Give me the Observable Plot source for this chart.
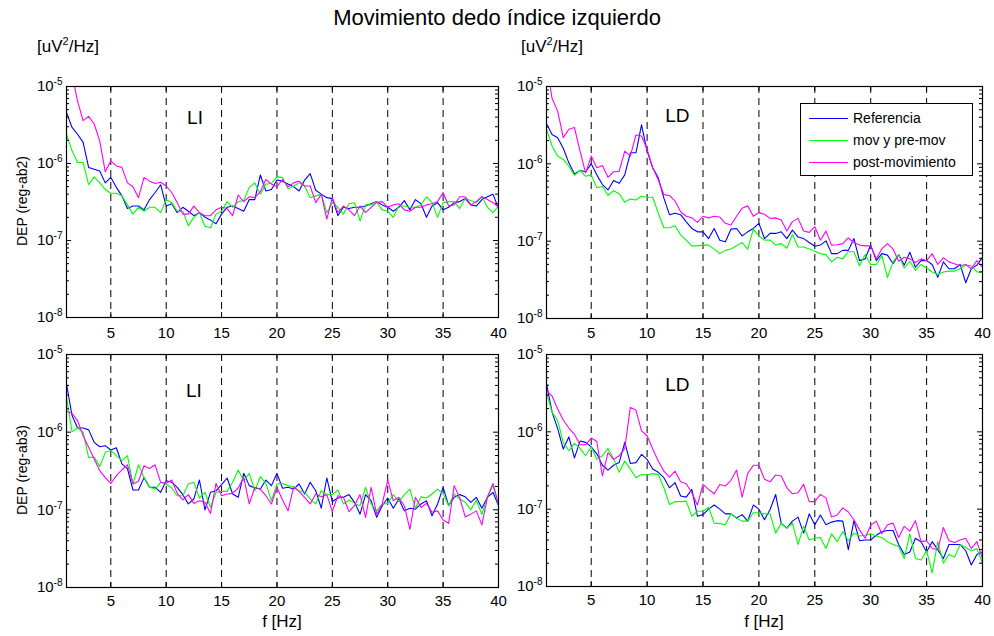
<!DOCTYPE html>
<html>
<head>
<meta charset="utf-8">
<script src="https://cdn.jsdelivr.net/npm/d3@7"></script>
<script src="https://cdn.jsdelivr.net/npm/@observablehq/plot@0.6"></script>
<style>
  html, body { margin: 0; padding: 0; background: #fff; }
  #root { position: relative; width: 994px; height: 636px; overflow: hidden; font-family: "Liberation Sans", Arial, sans-serif; color: #000; }
  .abs { position: absolute; white-space: nowrap; }
  .ylab { position: absolute; white-space: nowrap; font-size: 14px; transform: translate(-50%, -50%) rotate(-90deg); }
  .legend { position: absolute; border: 1px solid #000; background: #fff; box-sizing: border-box; }
  .legend .sw { position: absolute; left: 8px; width: 39px; height: 0; }
  .legend .lt { position: absolute; left: 52px; font-size: 14px; white-space: nowrap; line-height: 16px; }
</style>
</head>
<body>
<div id="root"></div>
<script>
// ---------------- data (PSD values in units of 1e-7 uV^2/Hz) ----------------
const UNIT = 1e-7;
const freqHz = [1,1.5,2,2.5,3,3.5,4,4.5,5,5.5,6,6.5,7,7.5,8,8.5,9,9.5,10,10.5,
  11,11.5,12,12.5,13,13.5,14,14.5,15,15.5,16,16.5,17,17.5,18,18.5,19,19.5,20,20.5,
  21,21.5,22,22.5,23,23.5,24,24.5,25,25.5,26,26.5,27,27.5,28,28.5,29,29.5,30,30.5,
  31,31.5,32,32.5,33,33.5,34,34.5,35,35.5,36,36.5,37,37.5,38,38.5,39,39.5,40];

const seriesNames = ["Referencia", "mov y pre-mov", "post-movimiento"];
const seriesColors = ["#0000ff", "#00ff00", "#ff00ff"];
const xTickValues = [5, 10, 15, 20, 25, 30, 35, 40];
const xGridValues = [5, 10, 15, 20, 25, 30, 35];
const yDecades = [1e-8, 1e-7, 1e-6, 1e-5];
const yMinorFactors = [2, 3, 4, 5, 6, 7, 8, 9];

// LI, reg-ab2
const li2Ref = [46,29.4,24,18.8,8.9,8.4,8.0,5.6,6.6,4.9, 3.8,2.6,2.8,2.8,2.5,3.4,4.2,5.3,2.8,3.0,
  2.3,2.7,2.4,2.1,2.3,2.0,1.84,1.65,2.2,2.7, 2.8,2.6,2.4,3.4,3.4,7.1,4.4,4.6,6.1,5.9,
  5.4,5.0,4.4,6.1,7.4,4.5,4.0,3.6,3.5,2.1, 2.7,2.6,2.7,2.7,2.8,3.0,3.2,2.9,2.7,2.4,
  2.7,3.3,2.5,3.4,3.0,2.0,2.8,3.1,2.5,2.7, 3.1,3.2,3.5,2.9,2.8,3.4,3.7,4.0,2.6];
const li2Mov = [24,14.6,10.3,10.3,5.3,6.7,5.6,4.6,4.1,4.1, 3.8,2.9,2.2,2.7,2.4,2.7,2.7,2.3,3.4,3.1,
  2.4,2.4,1.56,2.0,2.3,1.53,1.46,2.2,2.4,3.2, 2.7,3.2,3.3,4.9,5.6,4.0,5.4,5.5,6.7,6.6,
  4.7,5.1,5.6,5.1,3.6,3.8,4.0,2.3,3.1,2.7, 2.2,3.0,3.1,1.8,2.9,2.9,3.2,2.5,2.4,2.0,
  2.8,2.8,2.7,2.7,2.9,3.7,3.1,2.0,3.1,3.2, 3.2,2.6,3.5,3.3,3.1,3.7,2.7,2.3,2.8];
const li2Post = [250,146,64,36,41,32.6,19.7,7.8,10.8,9.3, 8.9,5.6,5.0,3.6,6.6,5.9,5.5,5.7,5.1,4.2,
  3.1,2.2,2.2,2.8,2.3,2.1,2.1,2.5,2.7,2.6, 2.1,3.9,3.2,3.7,3.6,4.3,6.2,5.4,5.0,6.2,
  5.0,5.6,5.9,5.1,5.1,3.1,4.0,1.9,3.6,2.3, 2.8,2.5,2.1,2.8,2.3,2.7,3.1,3.2,2.7,2.9,
  3.0,2.5,2.4,2.7,2.7,2.9,3.0,3.2,4.2,2.8, 2.9,3.7,3.7,2.9,3.2,3.7,3.4,3.1,2.7];

// LD, reg-ab2
const ld2Ref = [33,24,21.8,15.9,10.3,7.4,8.2,7.9,10,7.2, 5.4,4.6,6.1,5.6,7.2,13.9,13.9,31.9,14.6,8.9,
  6.6,3.6,2.2,2.3,2.2,1.78,1.46,1.32,1.32,1.08, 1.46,1.03,0.98,1.43,1.46,1.17,1.32,1.46,1.70,1.08,
  1.26,1.26,1.32,1.08,1.39,1.13,1.08,0.96,0.86,0.89, 1.01,0.69,0.69,0.76,0.76,1.08,0.56,0.59,0.89,0.56,
  0.69,0.66,0.51,0.67,0.49,0.72,0.46,0.56,0.56,0.50, 0.34,0.54,0.44,0.44,0.50,0.29,0.44,0.49,0.62];
const ld2Mov = [28,17,12.6,11.4,9.3,7.1,8.3,6.9,7.2,4.9, 5.1,3.9,4.5,4.1,3.2,3.5,3.4,3.8,3.7,3.7,
  2.3,1.49,1.49,1.58,1.2,1.03,0.87,0.87,0.89,0.89, 0.79,0.69,0.76,0.79,0.87,0.96,0.79,1.43,1.17,1.03,
  1.03,0.89,0.93,0.81,1.22,0.84,0.84,0.79,0.74,0.69, 0.67,0.54,0.62,0.59,0.73,0.73,0.48,0.67,0.50,0.50,
  0.65,0.34,0.54,0.67,0.45,0.55,0.42,0.50,0.45,0.40, 0.37,0.40,0.41,0.41,0.44,0.49,0.48,0.40,0.40];
const ld2Post = [200,70,48,21.8,28,29.5,14.6,7.6,12.6,8.9, 9.5,6.7,7.9,8.0,14.6,12.6,23.6,22.9,15.4,8.9,
  6.2,4.0,3.9,3.3,2.4,2.1,2.0,1.75,2.1,2.0, 2.1,2.05,1.70,1.62,2.1,2.66,2.86,2.1,2.34,2.23,
  1.97,2.0,1.88,1.35,1.79,1.97,1.35,1.30,1.54,1.03, 1.35,0.89,0.90,0.93,1.10,0.96,0.89,0.87,0.87,0.59,
  0.80,0.93,0.79,0.55,0.62,0.59,0.53,0.59,0.56,0.69, 0.50,0.61,0.54,0.51,0.48,0.50,0.44,0.56,0.46];

// LI, reg-ab3
const li3Ref = [41.8,16.4,11.3,11.3,10.7,7.4,6.5,6.7,5.9,6.3, 3.9,3.4,1.80,1.80,2.6,1.95,1.95,1.68,2.37,2.26,
  1.95,1.57,1.19,1.38,2.42,1.0,1.68,1.76,2.11,2.57, 1.60,1.45,2.95,2.05,1.91,1.85,2.42,2.05,2.95,1.9,
  1.95,1.85,2.15,1.60,2.26,1.76,1.05,2.57,1.28,1.42, 1.45,1.57,1.25,0.88,1.57,1.31,0.80,1.13,1.42,1.05,
  1.38,0.97,1.05,1.02,1.19,1.31,0.84,1.19,1.95,1.13, 1.45,1.57,1.47,1.25,1.45,1.05,1.45,1.68,1.13];
const li3Mov = [28.2,10.1,11.3,10.0,4.7,4.8,3.6,5.5,5.8,5.0, 4.3,5.0,2.15,3.8,2.6,1.95,1.85,2.26,2.15,1.91,
  1.52,1.52,2.15,2.26,1.42,1.68,1.07,1.68,1.73,1.73, 2.26,3.26,2.37,2.95,1.76,2.67,2.19,1.31,2.15,2.19,
  2.05,1.98,1.76,1.68,1.38,1.19,1.76,1.57,1.57,1.80, 1.19,1.34,1.21,1.13,1.95,1.19,0.97,1.19,1.21,1.57,
  1.28,1.57,1.85,1.05,1.47,1.42,1.60,1.85,1.63,1.13, 1.60,1.38,1.25,1.0,1.34,0.87,1.45,2.05,1.16];
const li3Post = [18.6,17.5,14.1,9.0,6.4,4.5,3.2,2.6,2.19,2.75, 3.26,3.8,2.15,2.33,3.7,3.4,3.8,2.26,2.19,2.42,
  1.63,1.34,1.57,1.21,1.31,1.25,0.90,2.19,1.52,1.60, 1.63,1.91,2.6,1.19,1.95,1.85,1.52,1.19,1.95,1.34,
  0.97,1.95,1.73,1.45,1.19,1.60,1.47,1.57,0.95,1.52, 1.45,0.95,1.13,1.57,0.80,1.95,0.88,1.19,2.42,1.31,
  1.45,1.13,0.56,1.45,1.07,1.21,0.93,0.97,0.74,0.67, 2.05,1.42,0.81,0.88,0.97,0.64,1.45,2.19,1.19];

// LD, reg-ab3
const ld3Ref = [42,18,11,6.0,8.6,4.6,7.6,7.3,6.4,5.2, 3.7,3.2,3.7,4.0,7.3,3.9,4.0,5.1,4.4,3.3,
  3.0,2.55,1.89,2.2,1.48,1.43,1.80,0.81,0.85,1.0, 1.13,1.0,0.87,0.87,0.77,0.85,0.70,1.13,1.0,0.73,
  0.99,1.55,0.65,0.57,0.70,0.79,0.49,0.87,0.63,0.84, 0.63,0.68,0.71,0.70,0.30,0.71,0.39,0.40,0.40,0.46,
  0.51,0.53,0.53,0.35,0.26,0.28,0.42,0.38,0.28,0.38, 0.30,0.23,0.35,0.35,0.35,0.29,0.19,0.26,0.28];
const ld3Mov = [32,17.9,14,7.3,5.7,7.1,6.1,4.9,6.4,4.4, 4.9,6.1,4.5,3.0,4.2,3.3,2.55,2.8,2.77,2.88,
  2.8,1.89,1.15,1.25,1.25,1.27,0.81,0.94,0.94,1.06, 0.66,0.65,0.63,0.87,0.77,0.70,0.70,0.90,0.90,0.87,
  0.87,0.49,0.66,0.57,0.66,0.35,0.60,0.40,0.42,0.43, 0.31,0.48,0.38,0.51,0.39,0.49,0.45,0.46,0.48,0.45,
  0.43,0.38,0.35,0.33,0.23,0.48,0.23,0.22,0.29,0.15, 0.38,0.20,0.26,0.24,0.35,0.32,0.29,0.31,0.20];
const ld3Post = [34,29,19.7,14.2,11.2,9.3,6.8,6.8,8.3,7.5, 2.7,5.4,4.4,4.9,6.1,20.7,19.1,10.3,8.9,6.0,
  4.2,3.1,2.6,3.1,2.26,2.13,1.63,1.13,2.09,1.80, 1.58,2.09,1.99,2.36,3.2,1.43,2.88,3.7,3.7,2.43,
  2.26,2.77,2.68,1.89,1.58,1.63,2.09,1.25,1.25,1.55, 1.40,0.79,0.84,1.04,0.92,0.73,0.54,0.42,0.62,0.70,
  0.48,0.63,0.66,0.43,0.60,0.52,0.71,0.38,0.39,0.31, 0.30,0.58,0.39,0.37,0.40,0.42,0.31,0.38,0.23];

// ---------------- drawing ----------------
const FONT = '"Liberation Sans", Arial, sans-serif';
const root = document.getElementById("root");

function addDiv(cls, text, css) {
  const d = document.createElement("div");
  d.className = cls;
  d.textContent = text;
  Object.assign(d.style, css);
  root.appendChild(d);
  return d;
}

function panel(cfg) {
  const {left, top, width, height, mL, mR, mT, mB, series, tag, tagX, tagDy, xPad} = cfg;
  const pw = width - mL - mR, ph = height - mT - mB;
  const rows = [];
  seriesNames.forEach((name, k) => series[k].forEach((v, i) => rows.push({f: freqHz[i], v: v * UNIT, s: name})));
  const minor = [];
  yDecades.slice(0, -1).forEach(d => yMinorFactors.forEach(m => minor.push(m * d)));
  const svg = Plot.plot({
    width, height,
    marginLeft: mL, marginRight: mR, marginTop: mT, marginBottom: mB,
    style: {background: "transparent", overflow: "visible", fontFamily: FONT, fontSize: "15px", color: "#000"},
    x: {domain: [1, 40]},
    y: {type: "log", domain: [1e-8, 1e-5]},
    color: {domain: seriesNames, range: seriesColors},
    marks: [
      Plot.ruleX(xGridValues, {x: d => d, stroke: "#000", strokeDasharray: "7,5", strokeWidth: 1}),
      Plot.line(rows, {x: "f", y: "v", z: "s", stroke: "s", strokeWidth: 1.1, clip: true}),
      Plot.tickX(xGridValues, {x: d => d, stroke: "#000", insetTop: ph - 5}),
      Plot.tickX(xGridValues, {x: d => d, stroke: "#000", insetBottom: ph - 5}),
      Plot.tickY(yDecades, {y: d => d, stroke: "#000", insetRight: pw - 5}),
      Plot.tickY(yDecades, {y: d => d, stroke: "#000", insetLeft: pw - 5}),
      Plot.tickY(minor, {y: d => d, stroke: "#000", insetRight: pw - 3}),
      Plot.tickY(minor, {y: d => d, stroke: "#000", insetLeft: pw - 3}),
      Plot.frame({stroke: "#000", strokeWidth: 1.2}),
      Plot.axisX(xTickValues, {tickSize: 0, tickPadding: xPad, label: null, fontSize: 15}),
      Plot.axisY(yDecades, {tickSize: 0, tickPadding: 4, label: null, fontSize: 15,
        tickFormat: d => String(Math.round(Math.log10(d)))}),
      Plot.text([tag], {x: tagX, frameAnchor: "top", dy: tagDy, fontSize: 19, textAnchor: "middle"})
    ]
  });
  // render y tick labels as 10 with a superscript exponent
  d3.select(svg).selectAll('g[aria-label="y-axis tick label"] text').each(function () {
    const e = this.textContent;
    const t = d3.select(this);
    t.text("10");
    t.append("tspan").attr("dy", "-0.6em").attr("font-size", "10px").text(e);
  });
  svg.style.position = "absolute";
  svg.style.left = left + "px";
  svg.style.top = top + "px";
  svg.style.maxWidth = "none";
  root.appendChild(svg);
}

panel({left: 0, top: 60, width: 510, height: 285, mL: 66, mR: 12, mT: 26, mB: 28,
  series: [li2Ref, li2Mov, li2Post], tag: "LI", tagX: 12.6, tagDy: 24, xPad: 10});
panel({left: 500, top: 60, width: 494, height: 285, mL: 46, mR: 12, mT: 26, mB: 27,
  series: [ld2Ref, ld2Mov, ld2Post], tag: "LD", tagX: 12.7, tagDy: 22, xPad: 9});
panel({left: 0, top: 345, width: 510, height: 291, mL: 66, mR: 12, mT: 9, mB: 49,
  series: [li3Ref, li3Mov, li3Post], tag: "LI", tagX: 12.5, tagDy: 29, xPad: 8});
panel({left: 500, top: 345, width: 494, height: 291, mL: 46, mR: 12, mT: 9, mB: 50,
  series: [ld3Ref, ld3Mov, ld3Post], tag: "LD", tagX: 12.7, tagDy: 23, xPad: 8});

// texts
addDiv("abs", "Movimiento dedo índice izquierdo", {left: "497px", top: "5px", fontSize: "22px", transform: "translateX(-50%)"});
const unitHtml = '[uV<sup style="font-size:11px;vertical-align:7px;line-height:0">2</sup>/Hz]';
const u1 = addDiv("abs", "", {left: "37px", top: "37px", fontSize: "17px"});
u1.innerHTML = unitHtml;
const u2 = addDiv("abs", "", {left: "521px", top: "37px", fontSize: "17px"});
u2.innerHTML = unitHtml;
addDiv("ylab", "DEP (reg-ab2)", {left: "22px", top: "201px"});
addDiv("ylab", "DEP (reg-ab3)", {left: "22px", top: "470px"});
addDiv("abs", "f [Hz]", {left: "282px", top: "613px", fontSize: "17px", lineHeight: "18px", transform: "translateX(-50%)"});
addDiv("abs", "f [Hz]", {left: "764px", top: "613px", fontSize: "17px", lineHeight: "18px", transform: "translateX(-50%)"});

// legend
const lg = document.createElement("div");
lg.className = "legend";
Object.assign(lg.style, {left: "800px", top: "103px", width: "173px", height: "73px"});
seriesNames.forEach((name, k) => {
  const sw = document.createElement("div");
  sw.className = "sw";
  sw.style.top = (14 + k * 22) + "px";
  sw.style.borderTop = "1px solid " + seriesColors[k];
  lg.appendChild(sw);
  const lt = document.createElement("div");
  lt.className = "lt";
  lt.style.top = (6 + k * 22) + "px";
  lt.textContent = name;
  lg.appendChild(lt);
});
root.appendChild(lg);
</script>
</body>
</html>
